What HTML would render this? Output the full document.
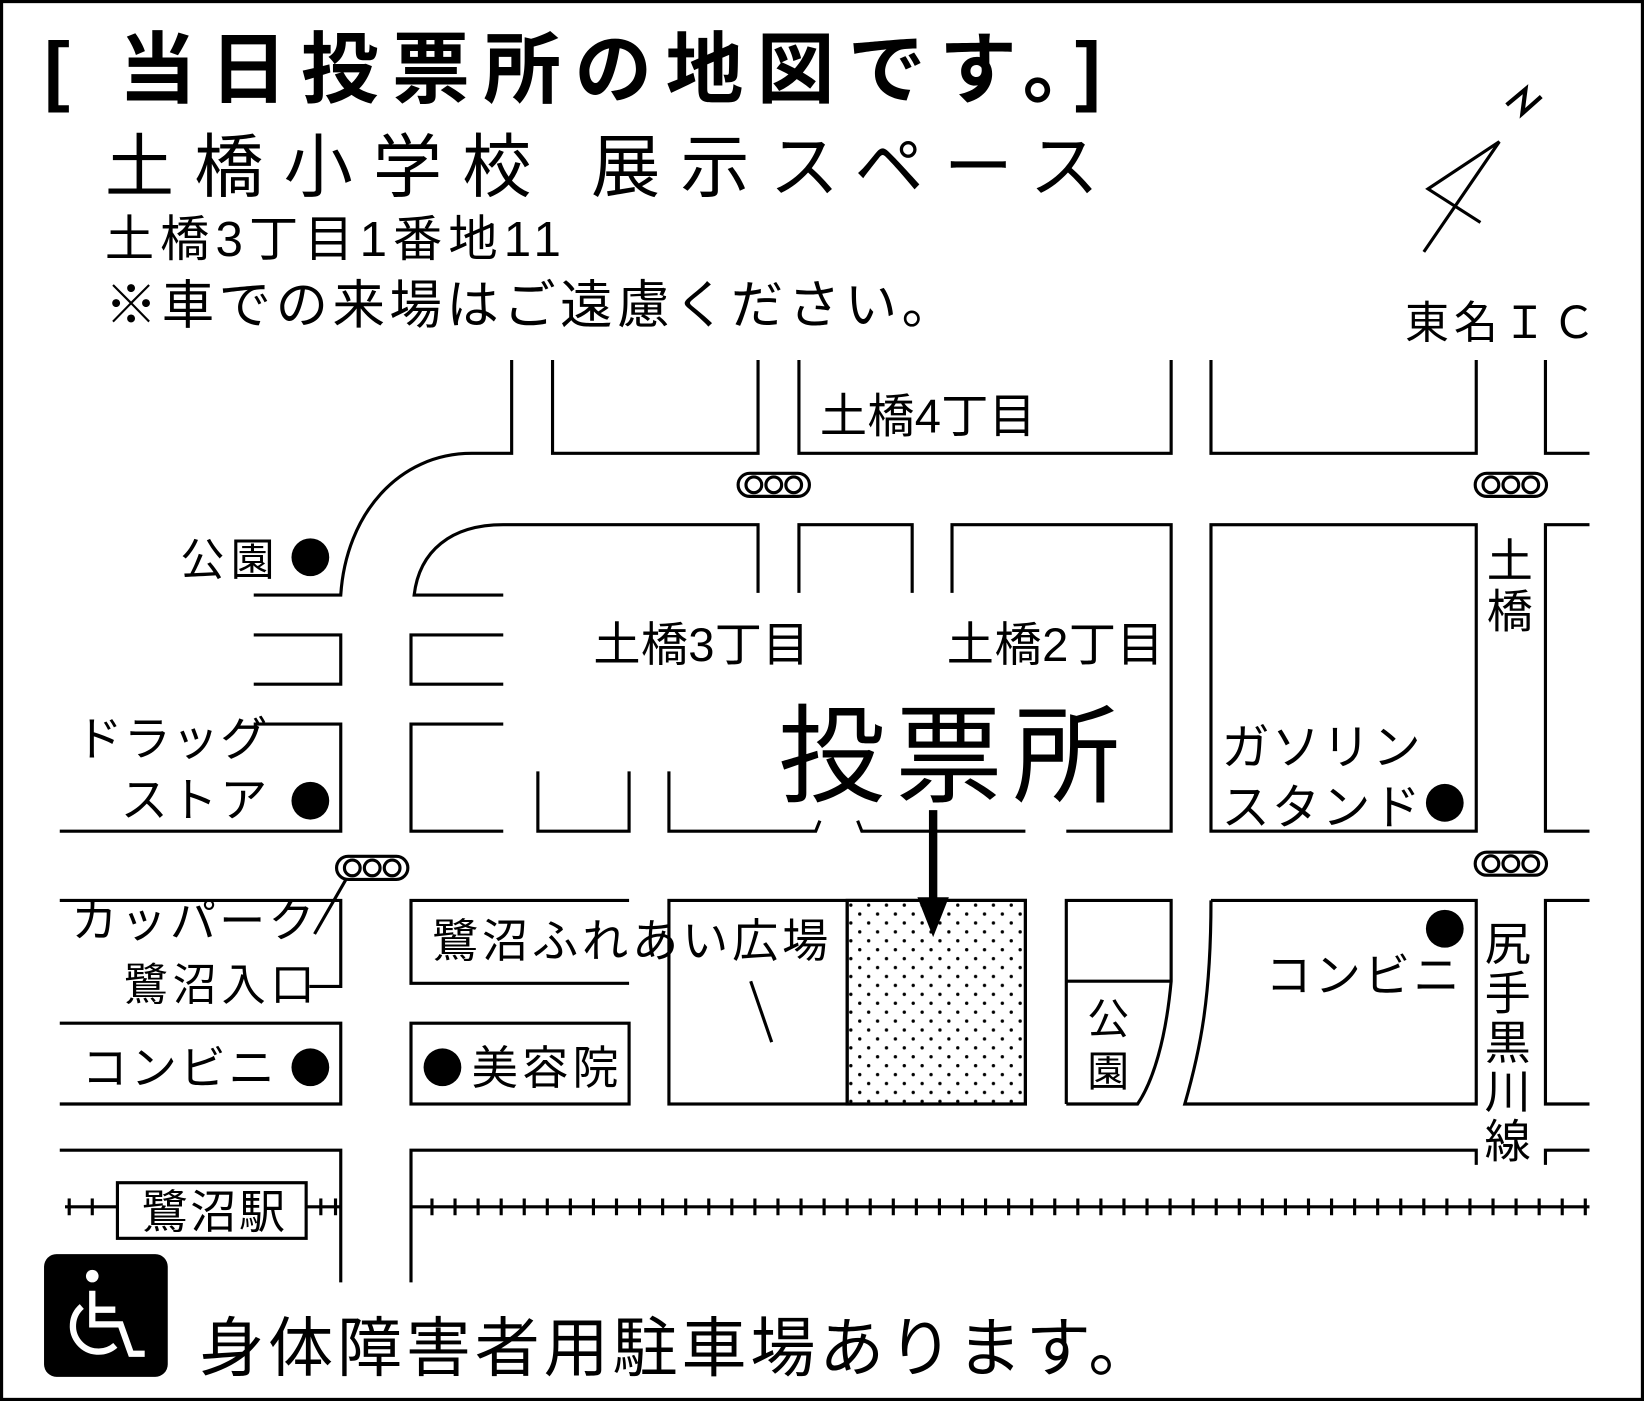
<!DOCTYPE html>
<html><head><meta charset="utf-8"><style>
html,body{margin:0;padding:0;background:#fff;}
svg{display:block;}
text{font-family:"Liberation Sans","Noto Sans CJK JP",sans-serif;fill:#000;}
</style></head><body>
<svg width="1644" height="1401" viewBox="0 0 1568 1335" preserveAspectRatio="none" xmlns="http://www.w3.org/2000/svg">
<defs>
<pattern id="dots" width="17" height="17" patternUnits="userSpaceOnUse"><circle cx="4" cy="4" r="1.6" fill="#000"/><circle cx="12.5" cy="12.5" r="1.6" fill="#000"/></pattern>
<g id="sig"><rect x="-34" y="-11" width="68" height="22" rx="11" fill="#fff" stroke="#000" stroke-width="3"/><circle cx="-19" cy="0" r="7.5" fill="none" stroke="#000" stroke-width="3"/><circle cx="0" cy="0" r="7.5" fill="none" stroke="#000" stroke-width="3"/><circle cx="19" cy="0" r="7.5" fill="none" stroke="#000" stroke-width="3"/></g>
</defs>
<rect x="1.5" y="1.5" width="1565" height="1332" fill="#fff" stroke="#000" stroke-width="3"/>
<text x="42" y="92" font-size="74" font-weight="bold" textLength="1008" lengthAdjust="spacing">[ 当日投票所の地図です。]</text>
<text x="100" y="182" font-size="66" textLength="948" lengthAdjust="spacing">土橋小学校 展示スペース</text>
<text x="100" y="244" font-size="47" textLength="435" lengthAdjust="spacing">土橋3丁目1番地11</text>
<text x="100" y="308" font-size="50" textLength="810" lengthAdjust="spacing">※車での来場はご遠慮ください。</text>
<g fill="none" stroke="#000" stroke-width="3">
<path d="M1358 240 L1430 135 L1362 180 L1412 212"/>
<path d="M1437 100 L1455 85 L1452 108 L1470 92" stroke-width="4"/>
</g>
<text x="1340" y="322" font-size="42" textLength="182" lengthAdjust="spacing">東名ＩＣ</text>
<g fill="none" stroke="#000" stroke-width="3">
<path d="M488 343 V432 H450 C380 432 330 490 325 567 H242"/>
<path d="M527 343 V432 H723 V343"/>
<path d="M762 343 V432 H1117 V343"/>
<path d="M1155 343 V432 H1408 V343"/>
<path d="M1474 343 V432 H1516"/>
<path d="M480 567 H395 C400 525 430 500 480 500 H723 V565"/>
<path d="M762 565 V500 H870 V565"/>
<path d="M908 565 V500 H1117 V792 H1017"/>
<path d="M978 792 H822 L818 782"/>
<path d="M638 735 V792 H778 L782 782"/>
<path d="M242 605 H325 V652 H242"/>
<path d="M480 605 H392 V652 H480"/>
<path d="M242 690 H325 V792 H57"/>
<path d="M480 690 H392 V792 H480"/>
<path d="M513 735 V792 H600 V735"/>
<rect x="1155" y="500" width="253" height="292"/>
<path d="M1516 500 H1474 V792 H1516"/>
<path d="M57 858 H325 V940 H295"/>
<path d="M57 975 H325 V1052 H57"/>
<path d="M600 858 H392 V937 H600"/>
<rect x="392" y="975" width="208" height="77"/>
<rect x="638" y="858" width="340" height="194"/>
<path d="M1017 1052 V858 H1117 V935 C1112 990 1100 1030 1085 1052 H1017"/>
<path d="M1017 935 H1117"/>
<path d="M1155 858 H1408 V1052 H1130 C1145 1000 1155 950 1155 858"/>
<path d="M1516 858 H1474 V1052 H1516"/>
<path d="M57 1096 H325 V1222"/>
<path d="M392 1222 V1096 H1408 V1110"/>
<path d="M1474 1110 V1096 H1516"/>
<path d="M716 935 L736 993"/>
<path d="M300 890 L330 838"/>
</g>
<rect x="808" y="858" width="170" height="194" fill="url(#dots)" stroke="#000" stroke-width="3"/>
<line x1="808" y1="858" x2="808" y2="1052" stroke="#000" stroke-width="3"/>
<use href="#sig" x="738" y="462"/><use href="#sig" x="1441" y="462"/>
<use href="#sig" x="355" y="827"/><use href="#sig" x="1441" y="823"/>
<g stroke="#000" stroke-width="3">
<line x1="62" y1="1150" x2="112" y2="1150"/><line x1="292" y1="1150" x2="325" y2="1150"/><line x1="392" y1="1150" x2="1516" y2="1150"/>
<line x1="66" y1="1142" x2="66" y2="1158"/><line x1="88" y1="1142" x2="88" y2="1158"/><line x1="306" y1="1142" x2="306" y2="1158"/><line x1="320" y1="1142" x2="320" y2="1158"/>
<path d="M412 1142V1158M434 1142V1158M456 1142V1158M478 1142V1158M500 1142V1158M522 1142V1158M544 1142V1158M566 1142V1158M588 1142V1158M610 1142V1158M632 1142V1158M654 1142V1158M676 1142V1158M698 1142V1158M720 1142V1158M742 1142V1158M764 1142V1158M786 1142V1158M808 1142V1158M830 1142V1158M852 1142V1158M874 1142V1158M896 1142V1158M918 1142V1158M940 1142V1158M962 1142V1158M984 1142V1158M1006 1142V1158M1028 1142V1158M1050 1142V1158M1072 1142V1158M1094 1142V1158M1116 1142V1158M1138 1142V1158M1160 1142V1158M1182 1142V1158M1204 1142V1158M1226 1142V1158M1248 1142V1158M1270 1142V1158M1292 1142V1158M1314 1142V1158M1336 1142V1158M1358 1142V1158M1380 1142V1158M1402 1142V1158M1424 1142V1158M1446 1142V1158M1468 1142V1158M1490 1142V1158M1512 1142V1158"/>
</g>
<rect x="112" y="1127" width="180" height="53" fill="#fff" stroke="#000" stroke-width="3"/>
<text x="135" y="1170" font-size="44" textLength="137" lengthAdjust="spacing">鷺沼駅</text>
<line x1="890" y1="772" x2="890" y2="860" stroke="#000" stroke-width="8"/>
<polygon points="875,855 905,855 890,893" fill="#000"/>
<text x="782" y="412" font-size="45" textLength="206" lengthAdjust="spacing">土橋4丁目</text>
<text x="172" y="548" font-size="42" textLength="90" lengthAdjust="spacing">公園</text><circle cx="296" cy="531" r="18"/>
<text x="566" y="630" font-size="45" textLength="206" lengthAdjust="spacing">土橋3丁目</text>
<text x="903" y="630" font-size="45" textLength="207" lengthAdjust="spacing">土橋2丁目</text>
<text x="742" y="756" font-size="102" textLength="326" lengthAdjust="spacing">投票所</text>
<text x="72" y="720" font-size="45" textLength="183" lengthAdjust="spacing">ドラッグ</text>
<text x="115" y="778" font-size="45" textLength="140" lengthAdjust="spacing">ストア</text><circle cx="296" cy="763" r="18"/>
<text x="1165" y="728" font-size="46" textLength="190" lengthAdjust="spacing">ガソリン</text>
<text x="1165" y="785" font-size="46" textLength="190" lengthAdjust="spacing">スタンド</text><circle cx="1378" cy="765" r="18"/>
<text x="1418" y="550" font-size="44">土</text><text x="1418" y="598" font-size="44">橋</text>
<text x="68" y="893" font-size="44" textLength="232" lengthAdjust="spacing">カッパーク</text>
<text x="118" y="953" font-size="42" textLength="182" lengthAdjust="spacing">鷺沼入口</text>
<text x="78" y="1033" font-size="44" textLength="184" lengthAdjust="spacing">コンビニ</text><circle cx="296" cy="1017" r="18"/>
<text x="412" y="912" font-size="44" textLength="378" lengthAdjust="spacing">鷺沼ふれあい広場</text>
<circle cx="422" cy="1017" r="18"/><text x="450" y="1033" font-size="44" textLength="140" lengthAdjust="spacing">美容院</text>
<text x="1037" y="985" font-size="40">公</text><text x="1037" y="1035" font-size="40">園</text>
<text x="1207" y="945" font-size="44" textLength="185" lengthAdjust="spacing">コンビニ</text><circle cx="1378" cy="885" r="18"/>
<text x="1416" y="915" font-size="44">尻</text><text x="1416" y="962" font-size="44">手</text><text x="1416" y="1009" font-size="44">黒</text><text x="1416" y="1056" font-size="44">川</text><text x="1416" y="1103" font-size="44">線</text>
<rect x="42" y="1195" width="118" height="117" rx="12" fill="#000"/>
<g fill="none" stroke="#fff" stroke-width="6">
<circle cx="88" cy="1216" r="6" fill="#fff" stroke="none"/>
<path d="M88 1230 V1262 H115 L125 1290 H138"/>
<path d="M88 1248 H110"/>
<path d="M78 1245 A24 24 0 1 0 110 1282"/>
</g>
<text x="190" y="1306" font-size="62" textLength="910" lengthAdjust="spacing">身体障害者用駐車場あります。</text>
</svg>
</body></html>
